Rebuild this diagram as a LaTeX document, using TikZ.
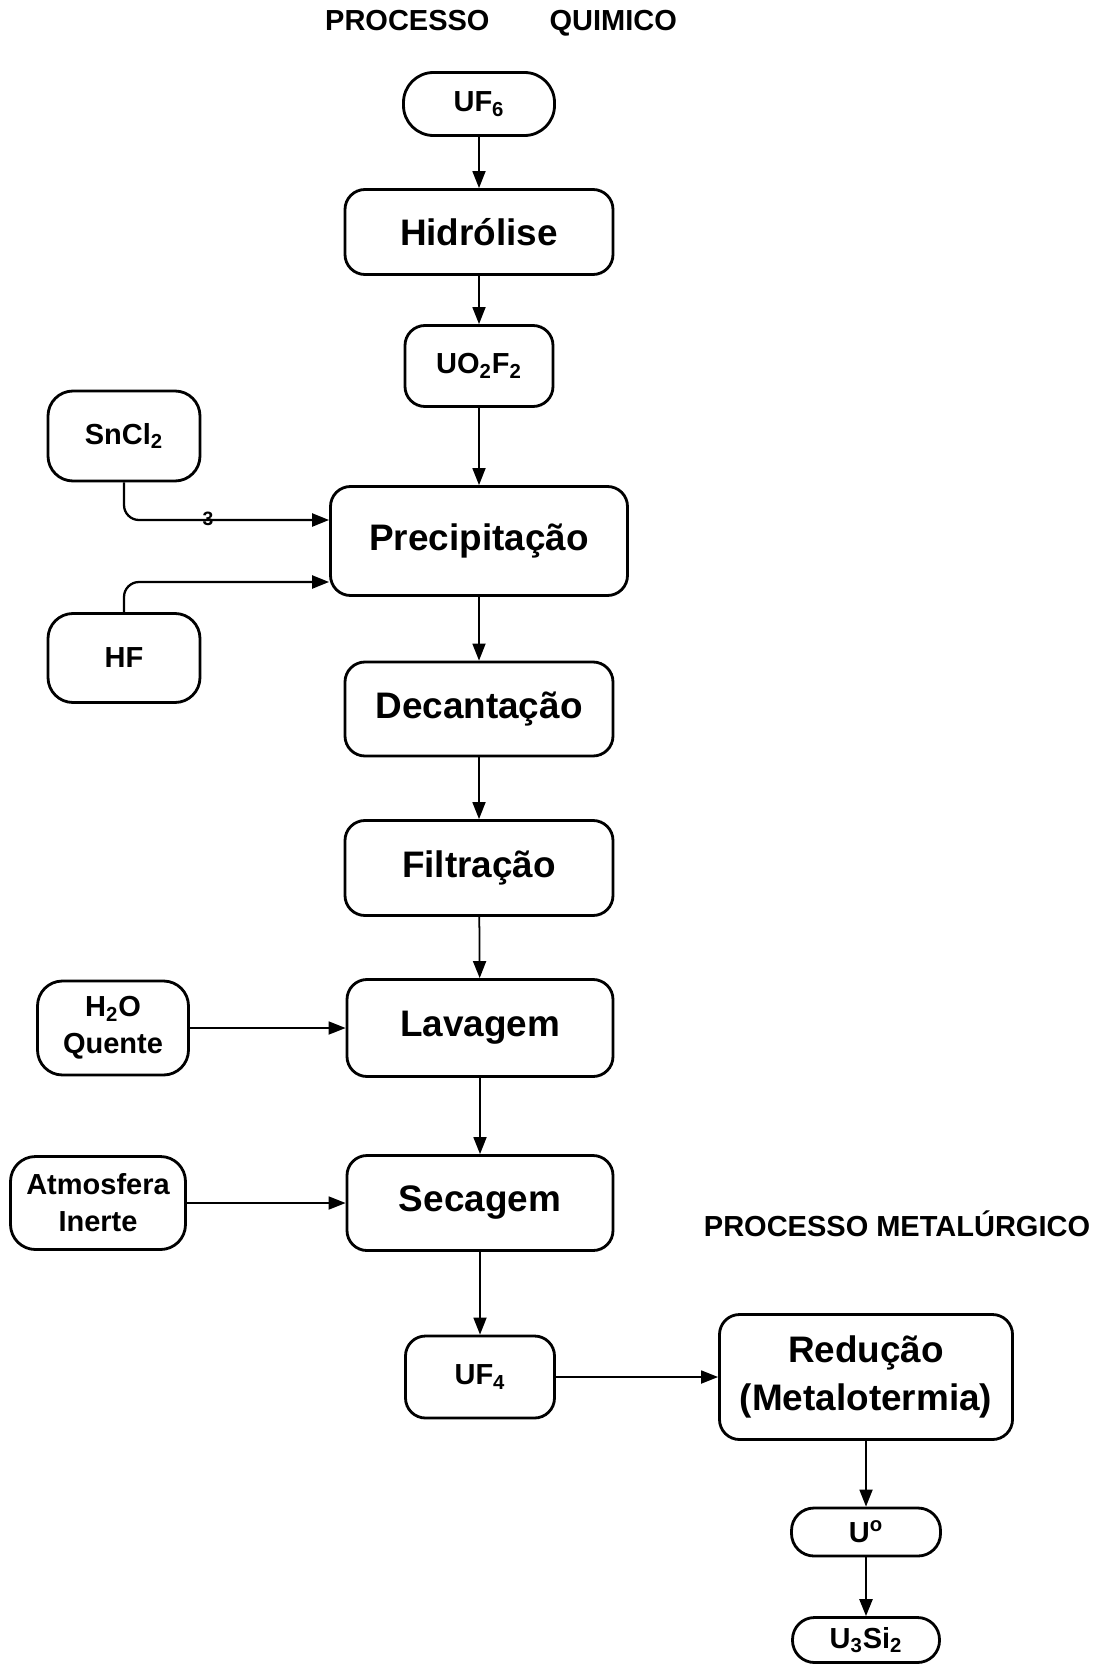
\documentclass[tikz,border=0pt]{standalone}
\usepackage{fontspec}
\setmainfont{Liberation Sans}
\usetikzlibrary{arrows.meta}

\begin{document}
\begin{tikzpicture}[x=0.2mm,y=-0.2mm,
  box/.style={draw, line width=1.6pt, rounded corners=4mm, align=center, inner sep=0pt, font=\bfseries\fontsize{21}{27}\selectfont},
  smallbox/.style={box, font=\bfseries\fontsize{16.5}{21}\selectfont},
  pill/.style={smallbox, rounded corners=#1},
  flow/.style={-{Triangle[length=3.4mm,width=2.6mm]}, line width=1pt},
  title/.style={font=\bfseries\fontsize{16.5}{20}\selectfont}]
\useasboundingbox (0,0) rectangle (1110,1665);

\node[title] (tquimico) at (501,23) {PROCESSO\hspace{12mm}QUIMICO};
\node[title] (tmetal) at (897,1224) {PROCESSO METALÚRGICO};

\node[pill=6mm, minimum width=30.2mm, minimum height=12.6mm] (uf6) at (479,104) {UF\textsubscript{6}};
\node[box, minimum width=53.6mm, minimum height=17mm] (hidrolise) at (479,232) {Hidrólise};
\node[smallbox, minimum width=29.6mm, minimum height=16.2mm] (uo2f2) at (479,366) {UO\textsubscript{2}F\textsubscript{2}};
\node[smallbox, rounded corners=5mm, minimum width=30.4mm, minimum height=18mm] (sncl2) at (124,436) {SnCl\textsubscript{2}};
\node[box, minimum width=59.4mm, minimum height=21.8mm] (precip) at (479,541) {Precipitação};
\node[smallbox, rounded corners=5mm, minimum width=30.4mm, minimum height=17.8mm] (hf) at (124,658) {HF};
\node[box, minimum width=53.6mm, minimum height=18.8mm] (decant) at (479,709) {Decantação};
\node[box, minimum width=53.6mm, minimum height=19mm] (filtra) at (479,868) {Filtração};
\node[box, minimum width=53.2mm, minimum height=19.4mm] (lavagem) at (480,1028) {Lavagem};
\node[smallbox, rounded corners=5mm, minimum width=30.2mm, minimum height=18.8mm] (agua) at (113,1028) {H\textsubscript{2}O\\Quente};
\node[box, minimum width=53.2mm, minimum height=19mm] (secagem) at (480,1203) {Secagem};
\node[smallbox, rounded corners=5mm, minimum width=35mm, minimum height=18.6mm] (atmos) at (98,1203) {Atmosfera\\Inerte};
\node[smallbox, minimum width=29.8mm, minimum height=16.4mm] (uf4) at (480,1377) {UF\textsubscript{4}};
\node[box, minimum width=58.6mm, minimum height=25mm] (reducao) at (866,1377) {Redução\\(Metalotermia)};
\node[pill=4.5mm, minimum width=29.8mm, minimum height=9.6mm] (u0) at (866,1532) {U\textsuperscript{o}};
\node[pill=4.4mm, minimum width=29.4mm, minimum height=9mm] (u3si2) at (866,1640) {U\textsubscript{3}Si\textsubscript{2}};

\draw[flow] (uf6) -- (hidrolise);
\draw[flow] (hidrolise) -- (uo2f2);
\draw[flow] (uo2f2) -- (precip);
\draw[flow, line width=1.3pt, rounded corners=3mm] (sncl2.south) |- (precip.west |- 0,520);
\node[font=\bfseries\fontsize{11}{12}\selectfont, inner sep=0pt] (tres) at (208,519) {3};
\draw[flow, line width=1.3pt, rounded corners=3mm] (hf.north) |- (precip.west |- 0,582);
\draw[flow] (precip) -- (decant);
\draw[flow] (decant) -- (filtra);
\draw[flow] (filtra) -- (lavagem);
\draw[flow] (agua) -- (lavagem);
\draw[flow] (lavagem) -- (secagem);
\draw[flow] (atmos) -- (secagem);
\draw[flow] (secagem) -- (uf4);
\draw[flow] (uf4) -- (reducao);
\draw[flow] (reducao) -- (u0);
\draw[flow, line width=1.4pt] (u0) -- (u3si2);

\end{tikzpicture}
\end{document}
